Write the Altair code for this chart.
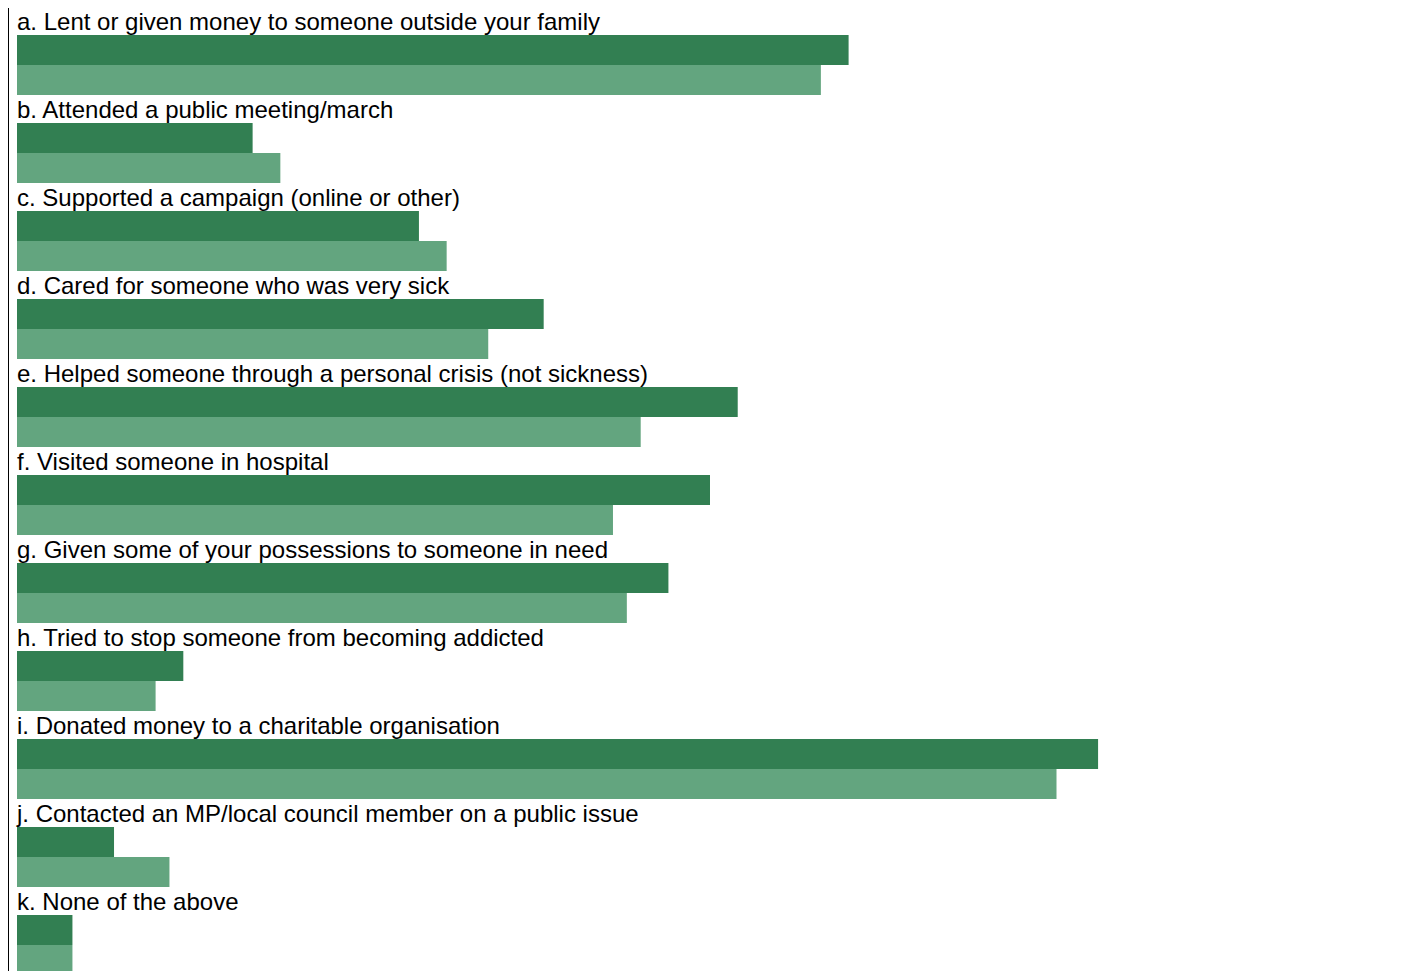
import altair as alt
import pandas as pd

categories = [
    "a. Lent or given money to someone outside your family",
    "b. Attended a public meeting/march",
    "c. Supported a campaign (online or other)",
    "d. Cared for someone who was very sick",
    "e. Helped someone through a personal crisis (not sickness)",
    "f. Visited someone in hospital",
    "g. Given some of your possessions to someone in need",
    "h. Tried to stop someone from becoming addicted",
    "i. Donated money to a charitable organisation",
    "j. Contacted an MP/local council member on a public issue",
    "k. None of the above",
]
series = ["Wave 1", "Wave 2"]
wave1 = [60, 17, 29, 38, 52, 50, 47, 12, 78, 7, 4]
wave2 = [58, 19, 31, 34, 45, 43, 44, 10, 75, 11, 4]
colors = ["#327f52", "#63a57f"]

rows = []
for c, v1, v2 in zip(categories, wave1, wave2):
    rows.append({"cat": c, "series": series[0], "value": v1})
    rows.append({"cat": c, "series": series[1], "value": v2})
df = pd.DataFrame(rows)
labels_df = pd.DataFrame({"cat": categories})

y_axis = alt.Axis(labels=False, ticks=False, title=None, domain=True,
                  domainColor="#000000", domainWidth=1, offset=9, grid=False)

bars = alt.Chart(df).mark_bar().encode(
    x=alt.X("value:Q", scale=alt.Scale(domain=[0, 100]), axis=None),
    y=alt.Y("cat:N", sort=categories,
            scale=alt.Scale(paddingInner=0, paddingOuter=0), axis=y_axis),
    yOffset=alt.YOffset("series:N", sort=series,
                        scale=alt.Scale(domain=series, paddingInner=0,
                                        paddingOuter=0.4667, align=1)),
    color=alt.Color("series:N", scale=alt.Scale(domain=series, range=colors),
                    legend=None),
)

texts = alt.Chart(labels_df).mark_text(
    align="left", baseline="alphabetic", dy=23, fontSize=24,
    font="Liberation Sans", color="#000000"
).encode(
    x=alt.datum(0),
    y=alt.Y("cat:N", sort=categories, bandPosition=0, axis=y_axis),
    text="cat:N",
)

chart = alt.layer(bars, texts).properties(
    width=1386, height=968, padding={"left": 0, "top": -1, "right": 0, "bottom": 0}
).configure_view(stroke=None)

chart.save("out.html", embed_options={"renderer": "svg", "actions": False})
